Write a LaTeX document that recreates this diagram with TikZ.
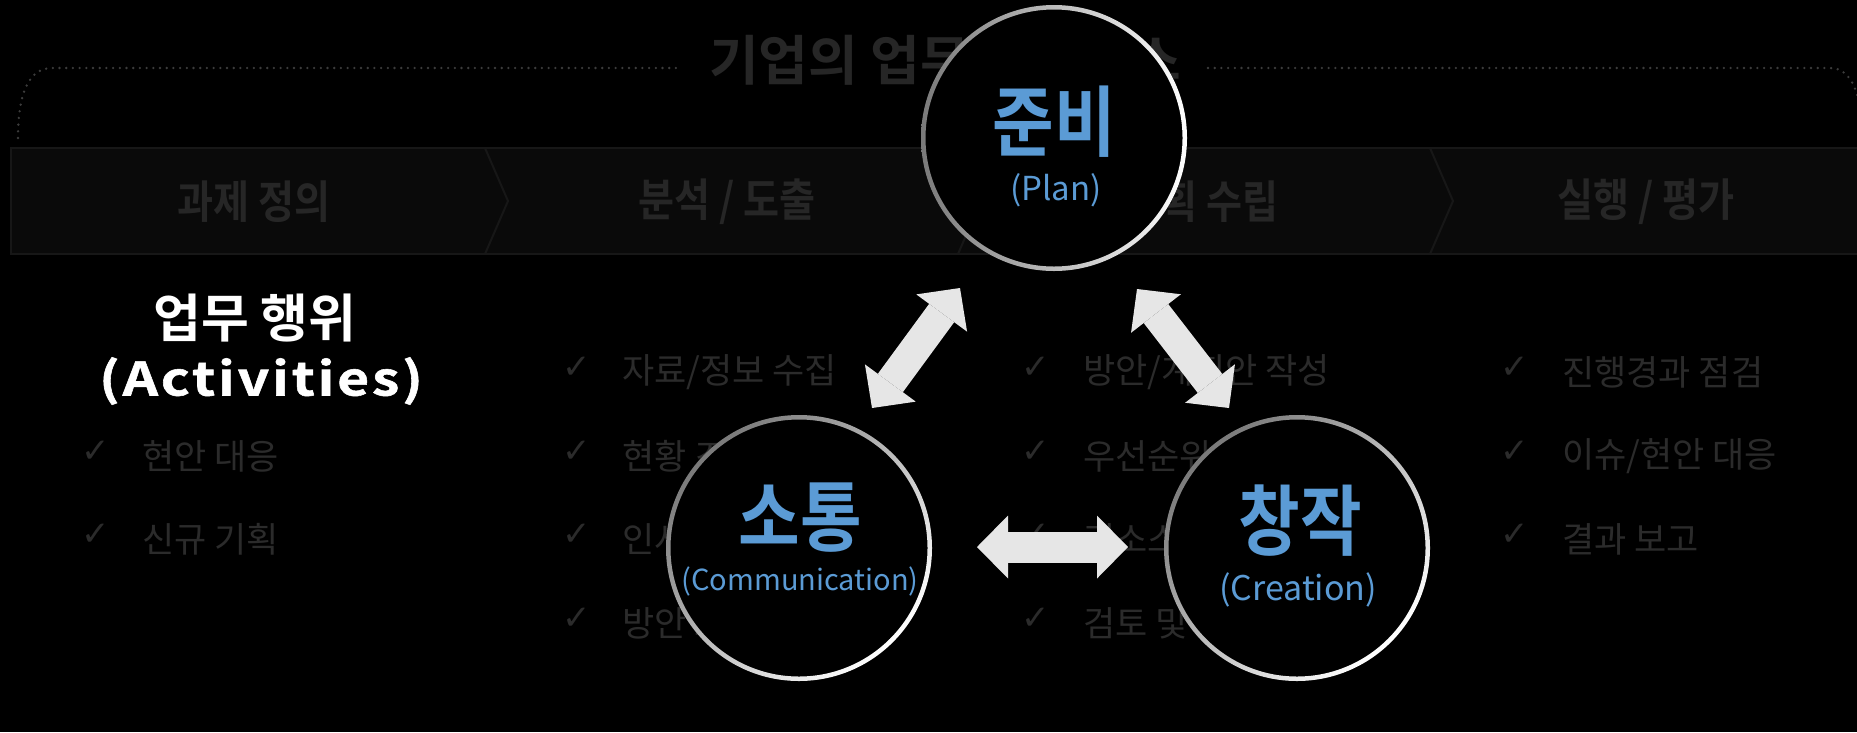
\documentclass[tikz,border=0pt]{standalone}
\usepackage{fontspec}
\setmainfont{Noto Sans CJK KR}[BoldFont={Noto Sans CJK KR Bold}]
\newfontfamily\narrowkr{Noto Sans CJK KR}[BoldFont={Noto Sans CJK KR Bold},FakeStretch=0.87]
\newfontfamily\listkr{Noto Sans CJK KR}[FakeStretch=1.0]
\newfontfamily\spacedkr{Noto Sans CJK KR Bold}[FakeStretch=1.2,LetterSpace=6,FakeBold=1.2]
\newfontfamily\tickfont{DejaVu Sans}
\usetikzlibrary{calc,arrows.meta}
\definecolor{planblue}{HTML}{5B9BD5}
\definecolor{bandfill}{HTML}{0A0A0A}
\definecolor{bandedge}{HTML}{171717}
\definecolor{bandtext}{HTML}{262626}
\definecolor{listgray}{HTML}{2B2B2B}
\definecolor{dotgray}{HTML}{3C3C3C}
\definecolor{ringgray}{HTML}{7A7A7A}
\definecolor{arrowgray}{HTML}{E6E6E6}

\begin{document}
\begin{tikzpicture}[x=1pt,y=-1pt]
            \tikzstyle{phase node}=[circle,fill=black,minimum size=266pt,inner sep=0];
            \tikzstyle{phase title}=[font=\fontsize{77}{80}\selectfont\narrowkr\bfseries,text=planblue,inner sep=0];
            \tikzstyle{phase sub}=[text=planblue,inner sep=0];
            \tikzstyle{band label}=[font=\fontsize{45}{50}\selectfont\narrowkr\bfseries,text=bandtext,inner sep=0];
            \tikzstyle{check mark}=[font=\fontsize{34}{36}\selectfont\tickfont,text=listgray,inner sep=0];
            \tikzstyle{check item}=[font=\fontsize{35}{40}\selectfont\listkr,text=listgray,anchor=west,inner sep=0];
            \tikzstyle{dot line}=[draw=dotgray,line width=2.6pt,line cap=round,dash pattern=on 0pt off 6.7pt];
            \tikzstyle{block arrow}=[draw=arrowgray,line width=31pt,{Triangle[length=31pt,width=63pt,line width=0pt]}-{Triangle[length=31pt,width=63pt,line width=0pt]}];
            \useasboundingbox (0,0) rectangle (1857,732);
            \fill[black] (0,0) rectangle (1857,732);
            \begin{scope}
            \clip (0,0) rectangle (1857,732);
            \draw[fill=bandfill,draw=bandedge,line width=2pt] (11,148) rectangle (1880,254);
            \foreach \x in {485,958,1430} \draw[bandedge,line width=2pt] (\x,148)--(\x+23,201)--(\x,254);
            \draw[dot line] (18,138) .. controls (18,95) and (28,68) .. (52,68) -- (682,68);
            \draw[dot line] (1208,68) -- (1830,68) .. controls (1852,68) and (1862,95) .. (1862,138);
            \end{scope}
            \node[band label] (step1) at (254,202) {과제 정의};
            \node[band label] (step2) at (727,202) {분석 / 도출};
            \node[band label] (step3) at (1202,202) {계획 수립};
            \node[band label] (step4) at (1646,202) {실행 / 평가};
            \node[font=\fontsize{54}{58}\selectfont\bfseries,text=bandtext,inner sep=0] (title) at (945,60) {기업의 업무 프로세스};
            \node[font=\fontsize{52}{58}\selectfont\bfseries,text=white,inner sep=0] (acts) at (255,318) {업무 행위};
            \node[font=\fontsize{46}{50}\selectfont\spacedkr,text=white,inner sep=0] (acts-en) at (261,381) {(Activities)};
            % check lists
            \foreach \y [count=\i] in {452,535} \node[check mark] (tick1\i) at (96,\y) {✓};
            \foreach \y [count=\i] in {368,452,535,619} \node[check mark] (tick2\i) at (577,\y) {✓};
            \foreach \y [count=\i] in {368,452,535,619} \node[check mark] (tick3\i) at (1036,\y) {✓};
            \foreach \y [count=\i] in {368,452,535} \node[check mark] (tick4\i) at (1515,\y) {✓};
            \node[check item] (item11) at (142,456) {현안 대응};
            \node[check item] (item12) at (142,539) {신규 기획};
            \node[check item] (item21) at (622,372) {자료/정보 수집};
            \node[check item] (item22) at (622,456) {현황 조사};
            \node[check item] (item23) at (622,539) {인사이트 도출};
            \node[check item] (item24) at (622,623) {방안 도출};
            \node[check item] (item31) at (1083,372) {방안/계획안 작성};
            \node[check item] (item32) at (1083,456) {우선순위 결정};
            \node[check item] (item33) at (1083,539) {리소스 배분};
            \node[check item] (item34) at (1083,623) {검토 및 보완};
            \node[check item] (item41) at (1562,372) {진행경과 점검};
            \node[check item] (item42) at (1562,456) {이슈/현안 대응};
            \node[check item] (item43) at (1562,539) {결과 보고};
            % three phases
            \node[phase node] (plan) at (1054,138) {};
            \node[phase node] (comm) at (799,548) {};
            \node[phase node] (crea) at (1297,548) {};
            \shade[even odd rule,top color=ringgray,bottom color=white,shading angle=90] (plan.center) circle (133pt) (plan.center) circle (128.5pt);
            \shade[even odd rule,top color=ringgray,bottom color=white,shading angle=45] (comm.center) circle (133pt) (comm.center) circle (128.5pt);
            \shade[even odd rule,top color=ringgray,bottom color=white,shading angle=45] (crea.center) circle (133pt) (crea.center) circle (128.5pt);
            \node[phase title,yshift=16] (plan-ko) at (plan) {준비};
            \node[phase sub,font=\fontsize{33}{36}\selectfont,xshift=2,yshift=-52] (plan-en) at (plan) {(Plan)};
            \node[phase title,xshift=1,yshift=30] (comm-ko) at (comm) {소통};
            \node[phase sub,font=\fontsize{29}{32}\selectfont,xshift=1,yshift=-33] (comm-en) at (comm) {(Communication)};
            \node[phase title,xshift=3,yshift=27] (crea-ko) at (crea) {창작};
            \node[phase sub,font=\fontsize{34}{37}\selectfont,xshift=1,yshift=-42] (crea-en) at (crea) {(Creation)};
            % arrows between phases
            \draw[block arrow] ($(comm)+(73,-140)$) -- ($(plan)+(-94,150)$);
            \draw[block arrow] ($(plan)+(83,151)$) -- ($(crea)+(-68,-140)$);
            \draw[block arrow] ($(comm)+(178,-1)$) -- ($(crea)+(-169,-1)$);
\end{tikzpicture}
\end{document}
